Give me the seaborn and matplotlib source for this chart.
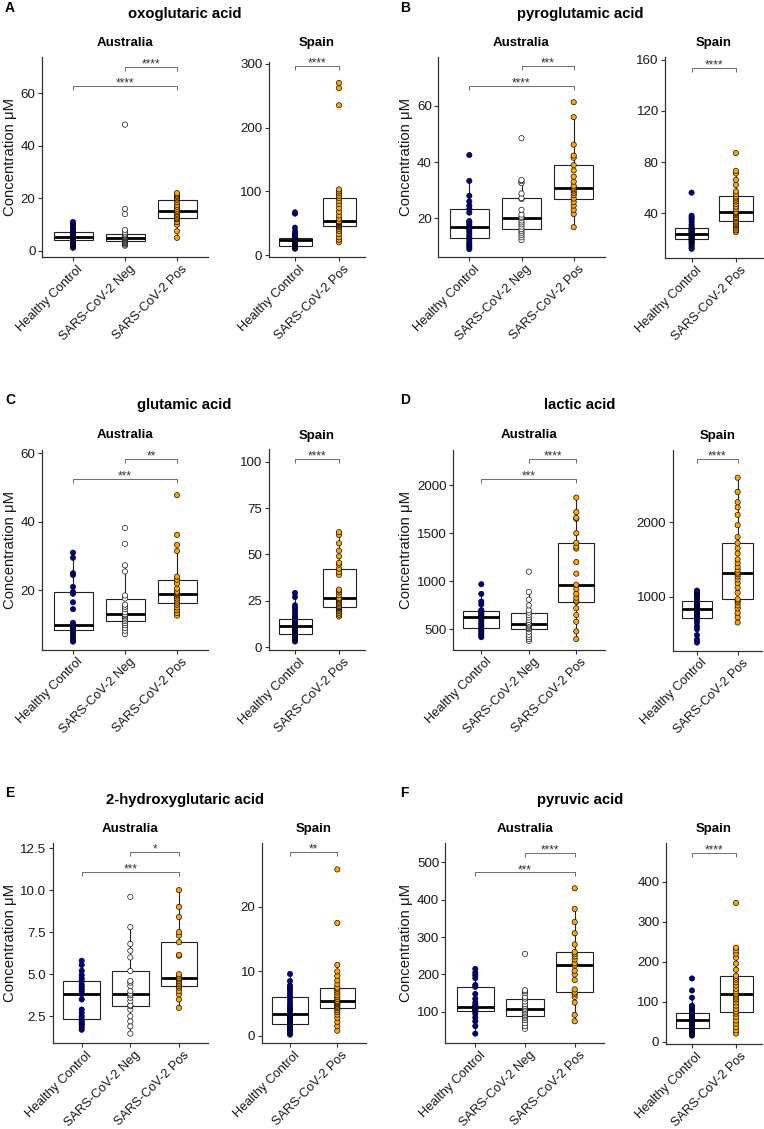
import numpy as np
import pandas as pd
import matplotlib
matplotlib.use("Agg")
import matplotlib.pyplot as plt
import matplotlib.transforms as mtransforms
import seaborn as sns

sns.set_theme(style="white")
plt.rcParams['font.family'] = ['Liberation Sans', 'DejaVu Sans']

# ---------------- data ----------------
groups_aus = ["Healthy Control", "SARS-CoV-2 Neg", "SARS-CoV-2 Pos"]
groups_esp = ["Healthy Control", "SARS-CoV-2 Pos"]
group_colors = {"Healthy Control": "#00008B", "SARS-CoV-2 Neg": "#FFFFFF", "SARS-CoV-2 Pos": "#FFA500"}

metabolites = ["oxoglutaric acid", "pyroglutamic acid", "glutamic acid",
               "lactic acid", "2-hydroxyglutaric acid", "pyruvic acid"]
panel_letters = ["A", "B", "C", "D", "E", "F"]

# A: oxoglutaric acid
A_aus_hc = [1.2, 1.8, 2.5, 3.0, 3.5, 4.0, 4.3, 4.6, 4.9, 5.1, 5.3, 5.6, 5.9, 6.2, 6.6, 7.1, 7.8, 8.6, 9.5, 10.4, 11.0]
A_aus_neg = [2.0, 2.4, 2.8, 3.1, 3.4, 3.7, 4.0, 4.3, 4.6, 4.9, 5.1, 5.3, 5.6, 5.9, 6.2, 6.6, 7.2, 8.0, 14.0, 16.0, 48.0]
A_aus_pos = [5.0, 7.5, 10.0, 11.0, 12.0, 12.4, 13.0, 13.6, 14.2, 14.8, 15.3, 16.0, 16.8, 17.5, 18.5, 19.4, 20.0, 20.6, 21.0, 21.5, 22.0]
A_esp_hc = [10, 10.5, 11, 11.5, 12, 12.5, 13, 14, 15, 16.5, 18, 19.5, 21, 22.5, 23.4, 24, 24.5, 25, 25.5, 26, 26.5, 27, 28, 30, 33, 37, 43, 65, 67]
A_esp_pos = [20, 24, 28, 33, 38, 41, 44, 45.8, 47, 48.5, 50, 51, 52, 52.5, 53, 57, 62, 68, 74, 80, 85, 89.6, 93, 97, 100, 103, 235, 262, 270]

# B: pyroglutamic acid
B_aus_hc = [9, 9.8, 10.5, 11.2, 12.2, 13.1, 14, 15, 15.8, 16.5, 17, 17.8, 18.5, 19, 22, 23.3, 24.5, 26, 28, 33.3, 42.5]
B_aus_neg = [12.2, 13.2, 14, 14.8, 15.5, 16.1, 17, 17.8, 18.5, 19.2, 20, 20.5, 21.3, 23, 26.8, 27.2, 28.8, 32.5, 33.2, 33.6, 48.5]
B_aus_pos = [16.8, 21.5, 23, 24.5, 25.8, 27, 28.2, 29, 29.8, 30.3, 30.9, 31.5, 33, 34.8, 37, 38.9, 41.5, 42.3, 46.2, 56, 61.3]
B_esp_hc = [12, 13, 14.5, 16, 17, 18, 19, 19.6, 20.2, 21, 21.6, 22.2, 22.8, 23.2, 23.6, 24.2, 25, 25.6, 26.3, 27, 27.5, 28, 29.5, 31, 33, 35, 36.5, 38, 56]
B_esp_pos = [25, 26.5, 28, 29.5, 30.5, 31.5, 32.5, 33.5, 35, 36, 37, 38.5, 39.5, 40.3, 41, 43, 45, 47, 49, 50.5, 52, 53, 55, 57, 62, 66, 71, 73, 87]

# C: glutamic acid
C_aus_hc = [5, 5.5, 6.2, 7, 7.8, 8.3, 8.7, 9, 9.3, 9.6, 9.8, 10.5, 14.5, 16.5, 19, 19.5, 21, 24.5, 25, 29.5, 31]
C_aus_neg = [7.2, 8.2, 9, 9.8, 10.4, 11, 11.5, 12, 12.4, 12.8, 13, 13.6, 14.5, 15.2, 15.8, 17.6, 18.5, 25.5, 27.3, 33.6, 38.2]
C_aus_pos = [12.6, 13.4, 14.2, 15, 15.8, 16.4, 17, 17.6, 18.2, 18.7, 19, 19.3, 19.6, 20.5, 22, 23.1, 24, 31.5, 33.3, 36.2, 47.8]
C_esp_hc = [3, 4, 4.8, 5.5, 6, 6.5, 7, 7.2, 8, 8.7, 9.4, 10, 10.5, 11, 11.2, 12, 12.7, 13.4, 14, 14.6, 15, 15.4, 16.5, 18, 19.5, 21, 22.5, 27, 29.2]
C_esp_pos = [16.5, 17.5, 18.5, 19.5, 20.3, 21, 21.4, 21.7, 22.2, 23, 23.8, 24.5, 25.2, 25.8, 26.4, 28, 29.5, 30.5, 31, 39, 40.5, 42.3, 44.5, 45.5, 49, 52, 56, 60.5, 62]

# D: lactic acid
D_aus_hc = [420, 440, 460, 480, 500, 517, 540, 560, 585, 605, 625, 640, 655, 670, 682, 694, 700, 760, 790, 870, 970]
D_aus_neg = [380, 400, 420, 445, 475, 503, 515, 530, 540, 552, 562, 580, 600, 625, 650, 676, 700, 750, 810, 890, 1100]
D_aus_pos = [400, 480, 580, 650, 720, 787, 800, 830, 870, 920, 965, 1080, 1200, 1340, 1360, 1400, 1500, 1650, 1660, 1720, 1870]
D_esp_hc = [380, 420, 480, 560, 600, 650, 690, 704, 720, 745, 770, 790, 805, 818, 830, 845, 860, 875, 890, 905, 920, 933, 960, 990, 1010, 1030, 1050, 1065, 1080]
D_esp_pos = [650, 720, 780, 840, 880, 920, 945, 964, 1050, 1120, 1180, 1230, 1270, 1300, 1323, 1360, 1400, 1450, 1500, 1580, 1650, 1717, 1800, 1960, 2100, 2200, 2270, 2410, 2600]

# E: 2-hydroxyglutaric acid
E_aus_hc = [1.7, 1.85, 2.0, 2.1, 2.2, 2.32, 2.5, 2.7, 2.9, 3.5, 3.81, 3.95, 4.1, 4.25, 4.4, 4.59, 4.75, 4.95, 5.2, 5.55, 5.8]
E_aus_neg = [1.47, 1.9, 2.2, 2.5, 2.9, 3.1, 3.15, 3.4, 3.6, 3.75, 3.85, 4.0, 4.3, 4.5, 4.6, 5.19, 6.0, 6.4, 6.8, 7.8, 9.6]
E_aus_pos = [3.0, 3.5, 3.8, 4.0, 4.2, 4.3, 4.4, 4.5, 4.6, 4.7, 4.78, 4.9, 5.0, 6.1, 6.15, 6.9, 7.3, 7.5, 8.4, 9.0, 10.0]
E_esp_hc = [0.2, 0.5, 0.8, 1.0, 1.2, 1.4, 1.6, 1.8, 2.1, 2.4, 2.7, 2.9, 3.1, 3.3, 3.4, 3.7, 4.0, 4.3, 4.6, 5.0, 5.5, 6.0, 6.4, 6.8, 7.2, 7.5, 7.8, 8.5, 9.6]
E_esp_pos = [0.8, 1.5, 2.2, 2.8, 3.3, 3.7, 4.0, 4.3, 4.5, 4.7, 4.9, 5.0, 5.15, 5.3, 5.4, 5.7, 6.0, 6.3, 6.7, 7.0, 7.3, 7.5, 8.0, 8.6, 9.3, 10.0, 11.0, 17.5, 25.8]

# F: pyruvic acid
F_aus_hc = [42, 62, 75, 85, 95, 101.6, 104, 107, 110, 112, 114, 118, 125, 135, 148, 167, 172, 190, 198, 205, 215]
F_aus_neg = [55, 62, 70, 78, 84, 88, 92, 96, 100, 104, 108, 112, 116, 121, 128, 135.5, 140, 150, 155, 158, 255]
F_aus_pos = [75, 92, 125, 140, 148, 152, 160, 185, 200, 210, 224, 230, 240, 248, 255, 260, 280, 310, 340, 375, 430]
F_esp_hc = [15, 18, 21, 24, 27, 30, 33, 35, 38, 41, 44, 47, 50, 52, 54, 56, 58, 61, 64, 66, 68, 71, 76, 81, 86, 90, 110, 128, 158]
F_esp_pos = [20, 28, 36, 45, 53, 62, 70, 75, 82, 90, 98, 105, 110, 115, 119, 125, 132, 140, 148, 155, 160, 165, 180, 195, 210, 220, 228, 235, 347]

# significance labels (Aus: Neg-vs-Pos, HC-vs-Pos ; Spain: HC-vs-Pos)
sig_aus_negpos = ["****", "***", "**", "****", "*", "****"]
sig_aus_hcpos = ["****", "****", "***", "***", "***", "***"]
sig_esp = ["****", "****", "****", "****", "**", "****"]
# bracket heights in data units
br_aus_negpos = [69.9, 74.2, 58.5, 2273, 12.26, 525.6]
br_aus_hcpos = [62.7, 67.1, 52.5, 2062, 11.07, 472.3]
br_esp = [297, 153.5, 101.6, 2856, 28.5, 472.5]

# y ticks and limits
yt_aus = [[0, 20, 40, 60], [20, 40, 60], [20, 40, 60], [500, 1000, 1500, 2000], [2.5, 5.0, 7.5, 10.0, 12.5], [100, 200, 300, 400, 500]]
yt_esp = [[0, 100, 200, 300], [40, 80, 120, 160], [0, 25, 50, 75, 100], [1000, 2000], [0, 10, 20], [0, 100, 200, 300, 400]]
yl_aus = [(-2.3, 73.7), (6.2, 77.4), (2.7, 61.0), (292, 2364), (0.91, 12.8), (17, 551)]
yl_esp = [(-3.1, 303), (4.8, 162.3), (-1.6, 106.9), (273, 2973), (-1.1, 29.9), (-6, 497)]

aus_data = [(A_aus_hc, A_aus_neg, A_aus_pos), (B_aus_hc, B_aus_neg, B_aus_pos),
            (C_aus_hc, C_aus_neg, C_aus_pos), (D_aus_hc, D_aus_neg, D_aus_pos),
            (E_aus_hc, E_aus_neg, E_aus_pos), (F_aus_hc, F_aus_neg, F_aus_pos)]
esp_data = [(A_esp_hc, A_esp_pos), (B_esp_hc, B_esp_pos), (C_esp_hc, C_esp_pos),
            (D_esp_hc, D_esp_pos), (E_esp_hc, E_esp_pos), (F_esp_hc, F_esp_pos)]

# ---------------- layout (pixels) ----------------
W, H = 764, 1129
fig = plt.figure(figsize=(W / 100, H / 100), dpi=100)
fig.patch.set_facecolor("white")

aus_box = [(41.8, 57, 208.2, 257), (438, 57, 605, 257), (41.8, 450, 208.2, 649.5),
           (452.8, 450, 604.8, 649.5), (52.5, 843, 208.2, 1043), (445.5, 843, 604.5, 1043)]
esp_box = [(268.6, 62, 365.4, 257), (665, 57, 762.5, 258), (268.6, 449, 365.4, 650),
           (672.6, 450, 762, 650.5), (261.6, 843, 365.7, 1043), (665.6, 843, 762.4, 1044)]
title_y = [14, 14, 405, 405, 800, 800]
sub_y = [43, 43, 435.5, 435.5, 829, 829]
letter_pos = [(5, 8), (400, 8), (5, 400), (400, 400), (5, 793), (400, 793)]
title_x = [184.5, 580, 184.5, 580, 184.5, 580]
ylabel_x = [10, 406, 10, 406, 10, 406]


def make_ax(box):
    l, t, r, b = box
    return fig.add_axes([l / W, 1 - b / H, (r - l) / W, (b - t) / H])


def draw(ax, groups, values, ylim, yticks):
    df = pd.DataFrame({"group": np.repeat(groups, [len(v) for v in values]),
                       "value": np.concatenate([np.asarray(v, float) for v in values])})
    sns.boxplot(data=df, x="group", y="value", order=groups, ax=ax, width=0.75,
                color="white", linecolor="#222222", linewidth=0.8, showfliers=False,
                showcaps=False, saturation=1,
                medianprops=dict(linewidth=2.0, color="black"))
    sns.stripplot(data=df, x="group", y="value", order=groups, hue="group",
                  hue_order=groups, palette=group_colors, jitter=False, size=3.8,
                  edgecolor="black", linewidth=0.45, ax=ax, legend=False, zorder=5)
    ax.set_xlim(-0.6, len(groups) - 0.4)
    ax.set_ylim(*ylim)
    ax.set_yticks(yticks)
    ax.set_yticklabels([f"{t:.1f}" if isinstance(t, float) else str(t) for t in yticks])
    ax.set_xlabel("")
    ax.set_ylabel("")
    for s in ["top", "right"]:
        ax.spines[s].set_visible(False)
    for s in ["left", "bottom"]:
        ax.spines[s].set_color("#333333")
        ax.spines[s].set_linewidth(0.9)
    ax.tick_params(axis="both", which="both", length=3, width=0.8, color="#333333",
                   labelsize=9.6, labelcolor="#1a1a1a", pad=1.5, left=True, bottom=True)
    offset = mtransforms.ScaledTranslation(4 / 100, 0, fig.dpi_scale_trans)
    for lab in ax.get_xticklabels():
        lab.set_rotation(45)
        lab.set_ha("right")
        lab.set_va("top")
        lab.set_rotation_mode("anchor")
        lab.set_fontsize(9.2)
        lab.set_transform(lab.get_transform() + offset)
    ax.set_facecolor("white")
    ax.grid(False)


def bracket(ax, x1, x2, y, label):
    lo, hi = ax.get_ylim()
    d = 0.02 * (hi - lo)
    ax.plot([x1, x1, x2, x2], [y - d, y, y, y - d], color="#555555", lw=0.6,
            solid_capstyle="butt", zorder=6)
    ax.annotate(label, xy=((x1 + x2) / 2, y), xytext=(0, -0.5), textcoords="offset points",
                ha="center", va="baseline", fontsize=8.5, color="#333333")


for i in range(6):
    ax1 = make_ax(aus_box[i])
    draw(ax1, groups_aus, aus_data[i], yl_aus[i], yt_aus[i])
    bracket(ax1, 1, 2, br_aus_negpos[i], sig_aus_negpos[i])
    bracket(ax1, 0, 2, br_aus_hcpos[i], sig_aus_hcpos[i])

    ax2 = make_ax(esp_box[i])
    draw(ax2, groups_esp, esp_data[i], yl_esp[i], yt_esp[i])
    bracket(ax2, 0, 1, br_esp[i], sig_esp[i])

    for box, name in [(aus_box[i], "Australia"), (esp_box[i], "Spain")]:
        cx = (box[0] + box[2]) / 2
        fig.text(cx / W, 1 - sub_y[i] / H, name, ha="center", va="center",
                 fontsize=9.5, fontweight="bold", color="black")
    fig.text(title_x[i] / W, 1 - title_y[i] / H, metabolites[i], ha="center", va="center",
             fontsize=10.7, fontweight="bold", color="black")
    lx, ly = letter_pos[i]
    fig.text(lx / W, 1 - ly / H, panel_letters[i], ha="left", va="center",
             fontsize=10, fontweight="bold", color="black")
    cy = (aus_box[i][1] + aus_box[i][3]) / 2
    fig.text(ylabel_x[i] / W, 1 - cy / H, "Concentration μM", ha="center", va="center",
             rotation=90, fontsize=10.7, color="#1a1a1a")

fig.savefig("out.png", dpi=100, facecolor="white")
